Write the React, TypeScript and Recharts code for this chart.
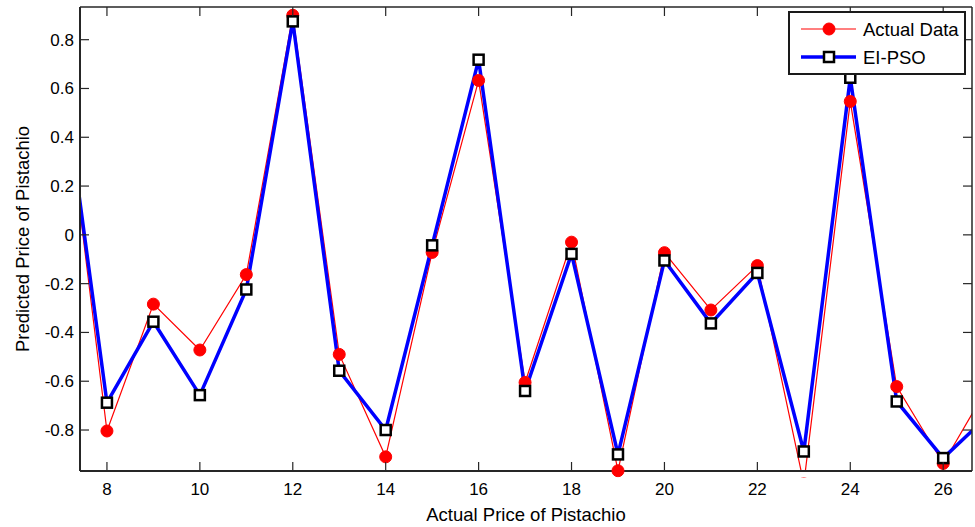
import React from 'react';
import { LineChart, Line, XAxis, YAxis, Legend } from 'recharts';

const xValues = [7, 8, 9, 10, 11, 12, 13, 14, 15, 16, 17, 18, 19, 20, 21, 22, 23, 24, 25, 26, 27];
const actualData = [0.75, -0.804, -0.284, -0.472, -0.163, 0.9, -0.49, -0.91, -0.072, 0.633, -0.605, -0.03, -0.967, -0.073, -0.308, -0.126, -1.02, 0.547, -0.622, -0.937, -0.61];
const eiPso = [0.73, -0.688, -0.356, -0.657, -0.224, 0.875, -0.557, -0.8, -0.043, 0.718, -0.64, -0.078, -0.9, -0.105, -0.363, -0.156, -0.888, 0.644, -0.683, -0.915, -0.735];
const xTicks = [8, 10, 12, 14, 16, 18, 20, 22, 24, 26];
const yTicks = [-0.8, -0.6, -0.4, -0.2, 0, 0.2, 0.4, 0.6, 0.8];
const xDomain = [7.42, 26.62];
const yDomain = [-0.968, 0.934];

const data = xValues.map((x, i) => ({ x, actual: actualData[i], pso: eiPso[i] }));

const FONT = '"Liberation Sans", Arial, Helvetica, sans-serif';
const AXIS = '#262626';
const TICK_LEN = 9;

const fmtY = (v: number) => (v === 0 ? '0' : String(Math.round(v * 10) / 10));

const BottomTick = (props: any) => {
  const { x, y, payload } = props;
  return (
    <g>
      <line x1={x} y1={y} x2={x} y2={y - TICK_LEN} stroke={AXIS} strokeWidth={1.2} />
      <text x={x} y={y + 24} textAnchor="middle" fontFamily={FONT} fontSize={17} fill="#000">
        {payload.value}
      </text>
    </g>
  );
};

const LeftTick = (props: any) => {
  const { x, y, payload } = props;
  return (
    <g>
      <line x1={x} y1={y} x2={x + TICK_LEN} y2={y} stroke={AXIS} strokeWidth={1.2} />
      <text x={x - 6} y={y + 6} textAnchor="end" fontFamily={FONT} fontSize={17} fill="#000">
        {fmtY(payload.value)}
      </text>
    </g>
  );
};

const TopTick = (props: any) => {
  const { x, y } = props;
  return <line x1={x} y1={y} x2={x} y2={y + TICK_LEN} stroke={AXIS} strokeWidth={1.2} />;
};

const RightTick = (props: any) => {
  const { x, y } = props;
  return <line x1={x} y1={y} x2={x - TICK_LEN} y2={y} stroke={AXIS} strokeWidth={1.2} />;
};

const SquareDot = (props: any) => {
  const { cx, cy, index } = props;
  if (cx == null || cy == null) return <g key={`sq-${index}`} />;
  return (
    <rect key={`sq-${index}`} x={cx - 5} y={cy - 5} width={10} height={10} fill="#fff" stroke="#000" strokeWidth={2.5} />
  );
};

const LegendBox = () => (
  <svg width={178} height={64} style={{ display: 'block' }}>
    <rect x={1} y={1} width={176} height={62} fill="#fff" stroke="#1a1a1a" strokeWidth={2} />
    <line x1={13} y1={18} x2={68} y2={18} stroke="#ff0000" strokeWidth={1.2} />
    <circle cx={41} cy={18} r={6} fill="#ff0000" stroke="#ff0000" />
    <text x={75} y={24.5} fontFamily={FONT} fontSize={18.5} fill="#000">Actual Data</text>
    <line x1={13} y1={46} x2={68} y2={46} stroke="#0000ff" strokeWidth={3.5} />
    <rect x={36} y={41} width={10} height={10} fill="#fff" stroke="#000" strokeWidth={2.5} />
    <text x={75} y={53} fontFamily={FONT} fontSize={18.5} fill="#000">EI-PSO</text>
  </svg>
);

export default function App() {
  return (
    <div style={{ position: 'absolute', left: 0, top: 0, width: 975, height: 527, background: '#fff' }}>
      <LineChart width={975} height={527} data={data} margin={{ top: 6, right: 2, bottom: 0, left: 0 }}>
        <XAxis
          dataKey="x"
          type="number"
          domain={xDomain}
          ticks={xTicks}
          allowDataOverflow
          height={56}
          tickSize={0}
          tickMargin={0}
          tickLine={false}
          tick={BottomTick}
          axisLine={{ stroke: AXIS, strokeWidth: 2 }}
          label={{ value: 'Actual Price of Pistachio', position: 'insideBottom', offset: 6, fill: '#000', fontSize: 18.5, fontFamily: FONT }}
        />
        <XAxis
          xAxisId="top"
          orientation="top"
          dataKey="x"
          type="number"
          domain={xDomain}
          ticks={xTicks}
          allowDataOverflow
          height={1}
          tickSize={0}
          tickMargin={0}
          tickLine={false}
          tick={TopTick}
          axisLine={{ stroke: AXIS, strokeWidth: 1.5 }}
        />
        <YAxis
          type="number"
          domain={yDomain}
          ticks={yTicks}
          allowDataOverflow
          width={80}
          tickSize={0}
          tickMargin={0}
          tickLine={false}
          tick={LeftTick}
          axisLine={{ stroke: AXIS, strokeWidth: 2 }}
          label={{ value: 'Predicted Price of Pistachio', angle: -90, position: 'insideLeft', offset: 22, fill: '#000', fontSize: 18.5, fontFamily: FONT, style: { textAnchor: 'middle' } }}
        />
        <YAxis
          yAxisId="right"
          orientation="right"
          type="number"
          domain={yDomain}
          ticks={yTicks}
          allowDataOverflow
          width={1}
          tickSize={0}
          tickMargin={0}
          tickLine={false}
          tick={RightTick}
          axisLine={{ stroke: AXIS, strokeWidth: 1.5 }}
        />
        <Legend
          layout="vertical"
          align="center"
          verticalAlign="middle"
          content={LegendBox}
          wrapperStyle={{ left: 788, top: 11, width: 178, height: 64 }}
        />
        <Line
          dataKey="actual"
          name="Actual Data"
          stroke="#ff0000"
          strokeWidth={1.2}
          dot={{ r: 6, fill: '#ff0000', stroke: '#ff0000', strokeWidth: 1, clipDot: false }}
          activeDot={false}
          isAnimationActive={false}
        />
        <Line
          dataKey="pso"
          name="EI-PSO"
          stroke="#0000ff"
          strokeWidth={3.5}
          dot={SquareDot}
          activeDot={false}
          isAnimationActive={false}
        />
      </LineChart>
    </div>
  );
}
